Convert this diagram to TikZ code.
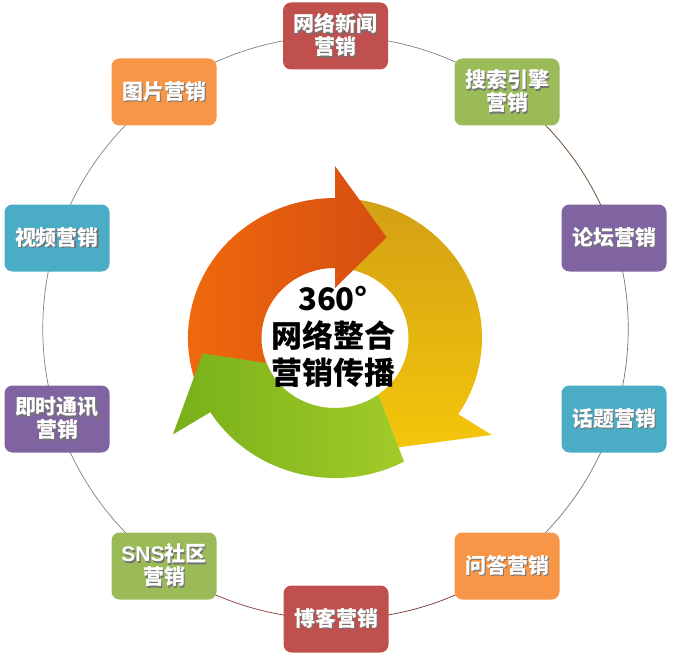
\documentclass[tikz,border=0pt]{standalone}
\usepackage{fontspec}
\setmainfont{Noto Sans CJK SC}
\newfontfamily\latf{Liberation Sans}
\definecolor{cred}{HTML}{C0504D}
\definecolor{cgreen}{HTML}{9BBB59}
\definecolor{cpurple}{HTML}{8064A2}
\definecolor{cteal}{HTML}{4BACC6}
\definecolor{corange}{HTML}{F79646}
\definecolor{aro1}{HTML}{F26C0C}
\definecolor{aro2}{HTML}{D64E10}
\definecolor{ary1}{HTML}{D2A015}
\definecolor{ary2}{HTML}{F4C60A}
\definecolor{arg1}{HTML}{78B01A}
\definecolor{arg2}{HTML}{A2CB28}
\pgfdeclarelayer{background}
\pgfsetlayers{background,main}
\newcommand\sh[1]{\leavevmode\rlap{\kern1.4pt\raisebox{-1.4pt}{\textcolor{black!55}{#1}}}#1}
\begin{document}
\begin{tikzpicture}[x=1pt,y=-1pt,
  box/.style={rectangle, rounded corners=8pt, minimum width=105pt, minimum height=67pt,
    inner sep=0pt, text=white, align=center, font=\bfseries\fontsize{21}{23}\selectfont},
  ringline/.style={line width=0.7pt, bend left=18, looseness=0.87}]
\useasboundingbox (0,0) rectangle (680,658);
% central arrows
\begin{scope}[shift={(335,338)}, yscale=-1, xscale=1.05]
  \shade[top color=ary1, bottom color=ary2]
    (90:140) arc[start angle=90, end angle=-33, radius=140] -- (-33:178) -- (-61:125)
    -- (-54:70) arc[start angle=-54, end angle=90, radius=70] -- cycle;
  \shade[left color=aro1, right color=aro2]
    (212:140) arc[start angle=212, end angle=90, radius=140] -- (90:172) -- (64:112)
    -- (90:50) -- (90:70) arc[start angle=90, end angle=212, radius=70] -- cycle;
  \shade[left color=arg1, right color=arg2]
    (306:70) -- (299:125) -- (298:140) arc[start angle=298, end angle=212, radius=140]
    -- (212:182) -- (187:127) -- (201:70) arc[start angle=201, end angle=306, radius=70] -- cycle;
\end{scope}
\node[font=\bfseries\fontsize{31}{37}\selectfont, align=center] (ct) at (333,337) {360°\\网络整合\\营销传播};
% boxes
\node[box, fill=cred]    (xw)  at (335.5,36) {\sh{网络新闻}\\\sh{营销}};
\node[box, fill=cgreen]  (ss)  at (507,92)   {\sh{搜索引擎}\\\sh{营销}};
\node[box, fill=cpurple] (lt)  at (614,238)  {\sh{论坛营销}};
\node[box, fill=cteal]   (ht)  at (614,419)  {\sh{话题营销}};
\node[box, fill=corange] (wd)  at (507,566)  {\sh{问答营销}};
\node[box, fill=cred]    (bk)  at (336,619)  {\sh{博客营销}};
\node[box, fill=cgreen]  (sns) at (164,566)  {\sh{{\latf\bfseries SNS}社区}\\\sh{营销}};
\node[box, fill=cpurple] (js)  at (57,419)   {\sh{即时通讯}\\\sh{营销}};
\node[box, fill=cteal]   (sp)  at (57,238)   {\sh{视频营销}};
\node[box, fill=corange] (tp)  at (164,92)   {\sh{图片营销}};
% ring connectors (behind the boxes)
\begin{pgfonlayer}{background}
\draw[ringline, draw=black!50] (xw.center) to (ss.center);
\draw[ringline, draw=black!50!brown] (ss.center) to (lt.center);
\draw[ringline, draw=black!55] (lt.center) to (ht.center);
\draw[ringline, draw=cteal!40!black!70] (ht.center) to (wd.center);
\draw[ringline, draw=cred!60!black] (wd.center) to (bk.center);
\draw[ringline, draw=cred!70!black] (bk.center) to (sns.center);
\draw[ringline, draw=black!50] (sns.center) to (js.center);
\draw[ringline, draw=black!50] (js.center) to (sp.center);
\draw[ringline, draw=black!50] (sp.center) to (tp.center);
\draw[ringline, draw=black!50] (tp.center) to (xw.center);
\end{pgfonlayer}
\end{tikzpicture}
\end{document}
